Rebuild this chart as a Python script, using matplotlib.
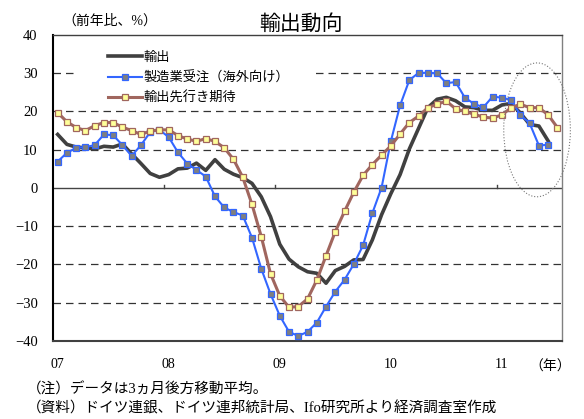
import matplotlib
matplotlib.use('Agg')
import matplotlib.pyplot as plt
from matplotlib.patches import Ellipse, Rectangle

plt.rcParams['font.family'] = ['Liberation Serif', 'Noto Sans CJK JP']

# monthly, Jan 2007 -
exports = [14.0, 11.4, 10.7, 10.5, 10.2, 10.9, 10.7, 11.5, 8.9, 6.4, 3.8, 2.8,
           3.5, 5.0, 5.2, 6.5, 4.6, 7.4, 4.9, 3.6, 2.7, 1.2, -2.3, -7.5,
           -14.7, -18.6, -20.6, -21.9, -22.3, -24.9, -21.6, -20.5, -18.8, -18.7, -13.6, -7.0,
           -1.5, 3.5, 10.2, 15.6, 21.0, 23.2, 23.7, 22.8, 21.2, 21.0, 20.3, 20.3,
           21.7, 22.1, 19.6, 16.6, 16.2, 12.3]
orders = [6.9, 9.2, 10.5, 10.7, 11.2, 14.0, 13.8, 11.2, 8.4, 11.2, 14.6, 15.2,
          13.3, 9.3, 6.4, 4.7, 3.0, -2.2, -5.1, -6.3, -7.2, -13.0, -21.1, -27.7,
          -33.4, -37.6, -38.7, -37.6, -35.2, -31.0, -27.1, -24.0, -19.9, -15.0, -6.6, 0.1,
          12.2, 21.6, 28.2, 30.1, 30.1, 30.0, 27.4, 27.7, 23.6, 22.0, 21.1, 23.9,
          23.6, 23.0, 19.1, 16.9, 11.1, 11.3]
outlook = [19.7, 17.3, 15.8, 15.0, 16.3, 17.1, 17.1, 15.9, 15.0, 14.0, 14.9, 15.2,
           15.2, 13.7, 12.8, 12.2, 12.9, 12.2, 10.5, 7.5, 2.8, -4.3, -12.7, -22.4,
           -28.2, -31.2, -31.0, -29.0, -24.1, -17.7, -11.4, -6.1, -1.1, 3.3, 6.1, 8.6,
           11.0, 14.1, 17.1, 18.8, 21.0, 21.9, 22.7, 20.7, 20.0, 19.3, 18.5, 18.3,
           19.1, 21.0, 21.9, 21.0, 21.0, 19.1, 15.8]
year_labels = ['07', '08', '09', '10', '11']
n_months = 55

fig = plt.figure(figsize=(5.84, 4.19), dpi=100)
ax = fig.add_axes([0.0908, 0.1862, 0.8716, 0.7303])

for v in [-30, -20, -10, 10, 20, 30]:
    ax.axhline(v, color='#333333', lw=0.9, ls=(0, (6, 4)), zorder=1)
ax.axhline(0, color='#444444', lw=1.0, zorder=1)
for k in range(1, len(year_labels)):
    ax.plot([12 * k - 0.5] * 2, [0, 0.9], color='#444444', lw=1.0, zorder=1)

# white box behind the legend
ax.add_patch(Rectangle((0.043, 0.84), 0.472, 0.1, transform=ax.transAxes,
                       facecolor='white', edgecolor='none', zorder=1.5))

ax.plot(range(len(exports)), exports, color='#404040', lw=2.6,
        solid_joinstyle='round', label='輸出', zorder=3)
ax.plot(range(len(orders)), orders, color='#3366ff', lw=1.5, marker='s', ms=5,
        mfc='#7f7f7f', mec='#3366ff', mew=0.9, label='製造業受注（海外向け）', zorder=4)
ax.plot(range(len(outlook)), outlook, color='#a0665e', lw=2.2, marker='s', ms=5,
        mfc='#ffff99', mec='#a0665e', mew=0.9, label='輸出先行き期待', zorder=5)

ax.add_patch(Ellipse((51.8, 15.2), 7.2, 35, fill=False, ls=':', color='#777777',
                     lw=0.8, clip_on=False, zorder=6))

ax.set_xlim(-0.5, n_months - 0.5)
ax.set_ylim(-40, 40)
ax.set_yticks(range(-40, 41, 10))
ax.set_xticks(range(0, n_months, 12))
ax.set_xticklabels(year_labels)
ax.tick_params(axis='y', length=0, pad=11, labelsize=10.5)
ax.tick_params(axis='x', length=0, pad=12, labelsize=10)

ax.spines['left'].set_color('black')
ax.spines['left'].set_linewidth(1.5)
ax.spines['bottom'].set_color('#404040')
ax.spines['bottom'].set_linewidth(1.5)
ax.spines['top'].set_color('#404040')
ax.spines['top'].set_linewidth(1.0)
ax.spines['right'].set_color('#808080')
ax.spines['right'].set_linewidth(1.0)

ax.legend(loc='upper left', bbox_to_anchor=(0.108, 0.948), frameon=False,
          borderpad=0, borderaxespad=0, handlelength=2.6, handletextpad=0.1,
          labelspacing=0.55, numpoints=1, prop={'family': 'Noto Sans CJK JP', 'size': 9.5})

fig.text(301 / 584, 1 - 24 / 419, '輸出動向', ha='center', va='center', fontsize=15,
         family='Noto Sans CJK JP')
fig.text(62 / 584, 1 - 21 / 419, '（前年比、%）', va='center', fontsize=10)
fig.text(550 / 584, 1 - 367 / 419, '（年）', ha='center', va='center', fontsize=10)
fig.text(27 / 584, 1 - 389 / 419, '（注）データは3ヵ月後方移動平均。', va='center', fontsize=10.5)
fig.text(27 / 584, 1 - 408 / 419, '（資料）ドイツ連銀、ドイツ連邦統計局、Ifo研究所より経済調査室作成',
         va='center', fontsize=10.5)

fig.savefig('out.png', dpi=100)
